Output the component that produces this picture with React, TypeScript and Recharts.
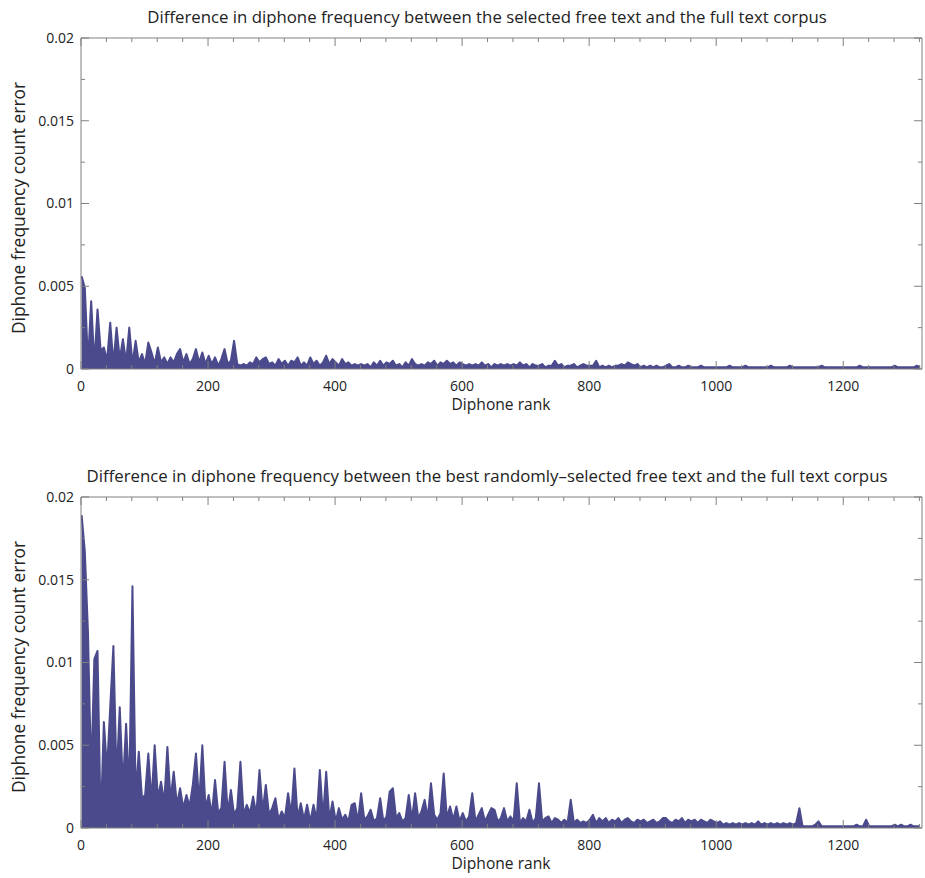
import { ComposedChart, Area, Line, XAxis, YAxis } from 'recharts';

// Diphone frequency count error, sampled every 5 ranks (rank 1, 6, 11, ...)
const selectedErr = [
  0.0056, 0.0049, 0.0004, 0.0041, 0.0003, 0.0036, 0.0011, 0.0013, 0.0005, 0.0028, 0.0003, 0.0025, 0.0006, 0.0018, 0.0004, 0.0025, 0.0003, 0.0017, 0.0004, 0.0009,
  0.0003, 0.0016, 0.0010, 0.0003, 0.0013, 0.0004, 0.0007, 0.0003, 0.0007, 0.0004, 0.0009, 0.0012, 0.0004, 0.0009, 0.0003, 0.0006, 0.0012, 0.0004, 0.0010, 0.0003,
  0.0008, 0.0003, 0.0007, 0.0002, 0.0006, 0.0012, 0.0003, 0.0005, 0.0017, 0.0003, 0.0002, 0.0003, 0.0002, 0.0004, 0.0003, 0.0007, 0.0004, 0.0006, 0.0007, 0.0003,
  0.0004, 0.0002, 0.0006, 0.0003, 0.0005, 0.0002, 0.0005, 0.0004, 0.0007, 0.0002, 0.0004, 0.0002, 0.0007, 0.0003, 0.0005, 0.0002, 0.0004, 0.0008, 0.0003, 0.0006,
  0.0004, 0.0002, 0.0006, 0.0003, 0.0004, 0.0002, 0.0003, 0.0002, 0.0003, 0.0002, 0.0003, 0.0001, 0.0004, 0.0002, 0.0005, 0.0002, 0.0004, 0.0003, 0.0005, 0.0002,
  0.0003, 0.0001, 0.0004, 0.0002, 0.0006, 0.0003, 0.0002, 0.0003, 0.0002, 0.0004, 0.0003, 0.0005, 0.0002, 0.0004, 0.0003, 0.0005, 0.0003, 0.0004, 0.0002, 0.0004,
  0.0003, 0.0002, 0.0003, 0.0002, 0.0003, 0.0002, 0.0004, 0.0002, 0.0003, 0.0001, 0.0003, 0.0002, 0.0003, 0.0002, 0.0003, 0.0002, 0.0003, 0.0002, 0.0004, 0.0002,
  0.0003, 0.0001, 0.0003, 0.0002, 0.0002, 0.0003, 0.0001, 0.0002, 0.0002, 0.0005, 0.0002, 0.0003, 0.0001, 0.0002, 0.0002, 0.0003, 0.0001, 0.0002, 0.0003, 0.0002,
  0.0002, 0.0002, 0.0005, 0.0001, 0.0002, 0.0001, 0.0002, 0.0001, 0.0002, 0.0002, 0.0003, 0.0002, 0.0004, 0.0003, 0.0002, 0.0003, 0.0001, 0.0002, 0.0001, 0.0002,
  0.0001, 0.0002, 0.0001, 0.0001, 0.0002, 0.0003, 0.0001, 0.0001, 0.0002, 0.0001, 0.0001, 0.0002, 0.0001, 0.0001, 0.0001, 0.0002, 0.0001, 0.0001, 0.0001, 0.0001,
  0.0001, 0.0001, 0.0001, 0.0001, 0.0002, 0.0001, 0.0001, 0.0001, 0.0001, 0.0002, 0.0001, 0.0001, 0.0001, 0.0001, 0.0001, 0.0001, 0.0001, 0.0002, 0.0001, 0.0001,
  0.0001, 0.0001, 0.0001, 0.0002, 0.0001, 0.0001, 0.0001, 0.0001, 0.0001, 0.0001, 0.0001, 0.0001, 0.0001, 0.0002, 0.0001, 0.0001, 0.0001, 0.0001, 0.0001, 0.0001,
  0.0001, 0.0001, 0.0001, 0.0001, 0.0001, 0.0002, 0.0001, 0.0001, 0.0001, 0.0001, 0.0001, 0.0001, 0.0001, 0.0001, 0.0001, 0.0001, 0.0002, 0.0001, 0.0001, 0.0001,
  0.0001, 0.0001, 0.0001, 0.0002, 0.0001,
];

const randomErr = [
  0.0189, 0.0167, 0.0118, 0.0031, 0.0102, 0.0107, 0.0002, 0.0064, 0.0035, 0.0073, 0.0110, 0.0030, 0.0073, 0.0025, 0.0063, 0.0022, 0.0146, 0.0020, 0.0046, 0.0018,
  0.0020, 0.0045, 0.0016, 0.0050, 0.0018, 0.0028, 0.0015, 0.0049, 0.0017, 0.0034, 0.0014, 0.0024, 0.0012, 0.0020, 0.0013, 0.0026, 0.0045, 0.0015, 0.0050, 0.0012,
  0.0020, 0.0008, 0.0029, 0.0009, 0.0012, 0.0040, 0.0009, 0.0023, 0.0008, 0.0012, 0.0040, 0.0008, 0.0014, 0.0009, 0.0019, 0.0008, 0.0035, 0.0010, 0.0026, 0.0008,
  0.0012, 0.0018, 0.0005, 0.0010, 0.0006, 0.0021, 0.0008, 0.0036, 0.0006, 0.0015, 0.0005, 0.0014, 0.0004, 0.0014, 0.0005, 0.0035, 0.0006, 0.0034, 0.0005, 0.0016,
  0.0004, 0.0012, 0.0005, 0.0008, 0.0004, 0.0014, 0.0015, 0.0004, 0.0021, 0.0005, 0.0007, 0.0011, 0.0004, 0.0006, 0.0018, 0.0004, 0.0007, 0.0022, 0.0024, 0.0006,
  0.0009, 0.0004, 0.0006, 0.0020, 0.0005, 0.0021, 0.0006, 0.0010, 0.0017, 0.0006, 0.0027, 0.0008, 0.0005, 0.0009, 0.0033, 0.0006, 0.0013, 0.0005, 0.0013, 0.0004,
  0.0009, 0.0004, 0.0007, 0.0021, 0.0004, 0.0008, 0.0012, 0.0004, 0.0008, 0.0012, 0.0011, 0.0004, 0.0006, 0.0012, 0.0004, 0.0007, 0.0004, 0.0027, 0.0003, 0.0006,
  0.0004, 0.0011, 0.0003, 0.0006, 0.0027, 0.0004, 0.0006, 0.0007, 0.0003, 0.0006, 0.0005, 0.0003, 0.0005, 0.0003, 0.0017, 0.0003, 0.0005, 0.0003, 0.0004, 0.0003,
  0.0005, 0.0008, 0.0003, 0.0006, 0.0004, 0.0006, 0.0003, 0.0005, 0.0004, 0.0006, 0.0003, 0.0005, 0.0006, 0.0004, 0.0003, 0.0005, 0.0004, 0.0005, 0.0003, 0.0004,
  0.0005, 0.0003, 0.0004, 0.0006, 0.0006, 0.0004, 0.0003, 0.0005, 0.0004, 0.0006, 0.0003, 0.0005, 0.0004, 0.0005, 0.0003, 0.0005, 0.0004, 0.0003, 0.0005, 0.0004,
  0.0003, 0.0004, 0.0002, 0.0003, 0.0002, 0.0003, 0.0002, 0.0003, 0.0002, 0.0003, 0.0002, 0.0003, 0.0002, 0.0004, 0.0002, 0.0003, 0.0002, 0.0003, 0.0002, 0.0003,
  0.0002, 0.0003, 0.0002, 0.0003, 0.0002, 0.0003, 0.0012, 0.0001, 0.0001, 0.0001, 0.0001, 0.0002, 0.0004, 0.0001, 0.0001, 0.0001, 0.0001, 0.0001, 0.0001, 0.0001,
  0.0001, 0.0001, 0.0001, 0.0001, 0.0002, 0.0001, 0.0001, 0.0005, 0.0001, 0.0001, 0.0001, 0.0001, 0.0001, 0.0001, 0.0001, 0.0001, 0.0002, 0.0001, 0.0002, 0.0001,
  0.0001, 0.0002, 0.0001, 0.0001, 0.0001,
];

const ranks = selectedErr.map((_, i) => 1 + 5 * i);

const rankTicks = [
  0, 40, 80, 120, 160, 200, 240, 280, 320, 360, 400, 440, 480, 520, 560, 600, 640,
  680, 720, 760, 800, 840, 880, 920, 960, 1000, 1040, 1080, 1120, 1160, 1200, 1240, 1280, 1320,
];
const errTicks = [0, 0.0025, 0.005, 0.0075, 0.01, 0.0125, 0.015, 0.0175, 0.02];

const LINE = '#4a4a8c';
const AXIS = '#808080';
const FONT = '"Open Sans", "Noto Sans", sans-serif';

const isMajorRank = (v: number) => v % 200 === 0;
const isMajorErr = (v: number) => Math.round(v / 0.0025) % 2 === 0;

const BottomTick = ({ x, y, payload }: any) => {
  const major = isMajorRank(payload.value);
  return (
    <g>
      <line x1={x} x2={x} y1={y} y2={y - (major ? 8 : 4)} stroke={AXIS} />
      {major && (
        <text x={x} y={y + 22} textAnchor="middle" fontSize={14} fill="#222" fontFamily={FONT}>
          {payload.value}
        </text>
      )}
    </g>
  );
};

const TopTick = ({ x, y, payload }: any) => {
  const major = isMajorRank(payload.value);
  return <line x1={x} x2={x} y1={y} y2={y + (major ? 8 : 4)} stroke={AXIS} />;
};

const LeftTick = ({ x, y, payload }: any) => {
  const major = isMajorErr(payload.value);
  return (
    <g>
      <line x1={x} x2={x + (major ? 8 : 4)} y1={y} y2={y} stroke={AXIS} />
      {major && (
        <text x={x - 7} y={y} dy="0.35em" textAnchor="end" fontSize={14} fill="#222" fontFamily={FONT}>
          {payload.value === 0 ? '0' : String(payload.value)}
        </text>
      )}
    </g>
  );
};

const RightTick = ({ x, y, payload }: any) => {
  const major = isMajorErr(payload.value);
  return <line x1={x} x2={x - (major ? 8 : 4)} y1={y} y2={y} stroke={AXIS} />;
};

function Panel({ title, values, top }: { title: string; values: number[]; top: number }) {
  const data = ranks.map((rank, i) => ({ rank, err: values[i] }));
  return (
    <div style={{ position: 'absolute', left: 0, top, width: 925, height: 420 }}>
      <ComposedChart width={925} height={420} data={data} margin={{ top: 37, right: 2, bottom: 0, left: 0 }}>
        <XAxis
          xAxisId="b"
          dataKey="rank"
          type="number"
          domain={[0, 1324]}
          allowDataOverflow
          ticks={rankTicks}
          interval={0}
          height={51}
          tickSize={0}
          tickMargin={0}
          tickLine={false}
          axisLine={{ stroke: AXIS }}
          tick={(p: any) => <BottomTick {...p} />}
        />
        <XAxis
          xAxisId="t"
          dataKey="rank"
          orientation="top"
          type="number"
          domain={[0, 1324]}
          allowDataOverflow
          ticks={rankTicks}
          interval={0}
          height={1}
          tickSize={0}
          tickMargin={0}
          tickLine={false}
          axisLine={{ stroke: AXIS }}
          tick={(p: any) => <TopTick {...p} />}
        />
        <YAxis
          yAxisId="l"
          type="number"
          domain={[0, 0.02]}
          allowDataOverflow
          ticks={errTicks}
          interval={0}
          width={81}
          tickSize={0}
          tickMargin={0}
          tickLine={false}
          axisLine={{ stroke: AXIS }}
          tick={(p: any) => <LeftTick {...p} />}
        />
        <YAxis
          yAxisId="r"
          orientation="right"
          type="number"
          domain={[0, 0.02]}
          allowDataOverflow
          ticks={errTicks}
          interval={0}
          width={1}
          tickSize={0}
          tickMargin={0}
          tickLine={false}
          axisLine={{ stroke: AXIS }}
          tick={(p: any) => <RightTick {...p} />}
        />
        <Area
          xAxisId="b"
          yAxisId="l"
          type="linear"
          dataKey="err"
          baseValue={0}
          stroke={LINE}
          strokeWidth={2}
          strokeLinejoin="round"
          fill={LINE}
          fillOpacity={1}
          dot={false}
          activeDot={false}
          isAnimationActive={false}
        />
        {/* invisible copy that anchors the mirrored top and right axes of the box */}
        <Line
          xAxisId="t"
          yAxisId="r"
          type="linear"
          dataKey="err"
          stroke="none"
          dot={false}
          activeDot={false}
          legendType="none"
          isAnimationActive={false}
        />
      </ComposedChart>
      <svg
        width={925}
        height={420}
        style={{ position: 'absolute', left: 0, top: 0, pointerEvents: 'none' }}
        fontFamily={FONT}
        fill="#222"
      >
        <text x={487} y={23} textAnchor="middle" fontSize={16.8}>
          {title}
        </text>
        <text x={501} y={410} textAnchor="middle" fontSize={15.6}>
          Diphone rank
        </text>
        <text x={25} y={208} textAnchor="middle" fontSize={17.4} transform="rotate(-90 25 208)">
          Diphone frequency count error
        </text>
      </svg>
    </div>
  );
}

export default function App() {
  return (
    <div style={{ position: 'absolute', left: 0, top: 0, width: 925, height: 878, background: '#fff' }}>
      <Panel
        title="Difference in diphone frequency between the selected free text and the full text corpus"
        values={selectedErr}
        top={0}
      />
      <Panel
        title="Difference in diphone frequency between the best randomly–selected free text and the full text corpus"
        values={randomErr}
        top={459}
      />
    </div>
  );
}
